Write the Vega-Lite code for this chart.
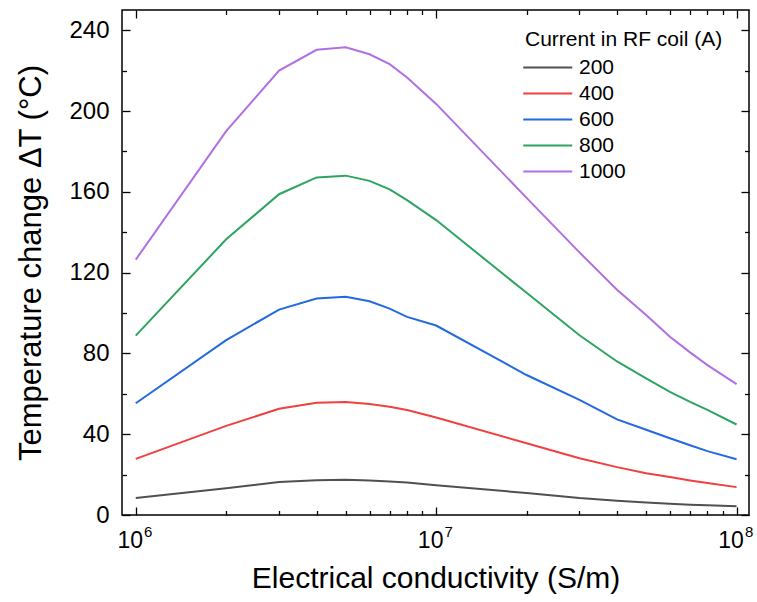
{
  "$schema": "https://vega.github.io/schema/vega-lite/v6.json",
  "width": 627,
  "height": 505,
  "autosize": {"type": "none"},
  "padding": {"left": 122, "top": 10, "right": 8, "bottom": 87},
  "background": "white",
  "data": {"values": [
    {"sigma": 1000000, "current": 200, "dT": 8.4},
    {"sigma": 2000000, "current": 200, "dT": 13.2},
    {"sigma": 3000000, "current": 200, "dT": 16.3},
    {"sigma": 4000000, "current": 200, "dT": 17.2},
    {"sigma": 5000000, "current": 200, "dT": 17.4},
    {"sigma": 6000000, "current": 200, "dT": 17.1},
    {"sigma": 7000000, "current": 200, "dT": 16.6},
    {"sigma": 8000000, "current": 200, "dT": 16.1},
    {"sigma": 10000000, "current": 200, "dT": 14.7},
    {"sigma": 20000000, "current": 200, "dT": 10.9},
    {"sigma": 30000000, "current": 200, "dT": 8.4},
    {"sigma": 40000000, "current": 200, "dT": 7.1},
    {"sigma": 50000000, "current": 200, "dT": 6.2},
    {"sigma": 60000000, "current": 200, "dT": 5.6},
    {"sigma": 70000000, "current": 200, "dT": 5.1},
    {"sigma": 80000000, "current": 200, "dT": 4.8},
    {"sigma": 100000000, "current": 200, "dT": 4.3},
    {"sigma": 1000000, "current": 400, "dT": 27.8},
    {"sigma": 2000000, "current": 400, "dT": 44.1},
    {"sigma": 3000000, "current": 400, "dT": 52.6},
    {"sigma": 4000000, "current": 400, "dT": 55.6},
    {"sigma": 5000000, "current": 400, "dT": 56.0},
    {"sigma": 6000000, "current": 400, "dT": 55.0},
    {"sigma": 7000000, "current": 400, "dT": 53.6},
    {"sigma": 8000000, "current": 400, "dT": 52.0},
    {"sigma": 10000000, "current": 400, "dT": 48.3},
    {"sigma": 20000000, "current": 400, "dT": 35.5},
    {"sigma": 30000000, "current": 400, "dT": 28.1},
    {"sigma": 40000000, "current": 400, "dT": 23.7},
    {"sigma": 50000000, "current": 400, "dT": 20.7},
    {"sigma": 60000000, "current": 400, "dT": 18.8},
    {"sigma": 70000000, "current": 400, "dT": 17.1},
    {"sigma": 80000000, "current": 400, "dT": 15.8},
    {"sigma": 100000000, "current": 400, "dT": 13.8},
    {"sigma": 1000000, "current": 600, "dT": 55.3},
    {"sigma": 2000000, "current": 600, "dT": 86.6},
    {"sigma": 3000000, "current": 600, "dT": 101.7},
    {"sigma": 4000000, "current": 600, "dT": 107.2},
    {"sigma": 5000000, "current": 600, "dT": 108.0},
    {"sigma": 6000000, "current": 600, "dT": 105.8},
    {"sigma": 7000000, "current": 600, "dT": 102.2},
    {"sigma": 8000000, "current": 600, "dT": 98.1},
    {"sigma": 10000000, "current": 600, "dT": 93.8},
    {"sigma": 20000000, "current": 600, "dT": 69.3},
    {"sigma": 30000000, "current": 600, "dT": 57.0},
    {"sigma": 40000000, "current": 600, "dT": 47.3},
    {"sigma": 50000000, "current": 600, "dT": 42.2},
    {"sigma": 60000000, "current": 600, "dT": 38.0},
    {"sigma": 70000000, "current": 600, "dT": 34.5},
    {"sigma": 80000000, "current": 600, "dT": 31.6},
    {"sigma": 100000000, "current": 600, "dT": 27.6},
    {"sigma": 1000000, "current": 800, "dT": 88.8},
    {"sigma": 2000000, "current": 800, "dT": 136.5},
    {"sigma": 3000000, "current": 800, "dT": 158.8},
    {"sigma": 4000000, "current": 800, "dT": 167.1},
    {"sigma": 5000000, "current": 800, "dT": 168.0},
    {"sigma": 6000000, "current": 800, "dT": 165.4},
    {"sigma": 7000000, "current": 800, "dT": 161.2},
    {"sigma": 8000000, "current": 800, "dT": 155.9},
    {"sigma": 10000000, "current": 800, "dT": 146.0},
    {"sigma": 20000000, "current": 800, "dT": 110.0},
    {"sigma": 30000000, "current": 800, "dT": 89.0},
    {"sigma": 40000000, "current": 800, "dT": 76.0},
    {"sigma": 50000000, "current": 800, "dT": 67.6},
    {"sigma": 60000000, "current": 800, "dT": 61.0},
    {"sigma": 70000000, "current": 800, "dT": 56.0},
    {"sigma": 80000000, "current": 800, "dT": 52.0},
    {"sigma": 100000000, "current": 800, "dT": 44.8},
    {"sigma": 1000000, "current": 1000, "dT": 126.4},
    {"sigma": 2000000, "current": 1000, "dT": 190.0},
    {"sigma": 3000000, "current": 1000, "dT": 220.0},
    {"sigma": 4000000, "current": 1000, "dT": 230.3},
    {"sigma": 5000000, "current": 1000, "dT": 231.6},
    {"sigma": 6000000, "current": 1000, "dT": 228.1},
    {"sigma": 7000000, "current": 1000, "dT": 223.2},
    {"sigma": 8000000, "current": 1000, "dT": 216.6},
    {"sigma": 10000000, "current": 1000, "dT": 203.5},
    {"sigma": 20000000, "current": 1000, "dT": 157.0},
    {"sigma": 30000000, "current": 1000, "dT": 130.0},
    {"sigma": 40000000, "current": 1000, "dT": 111.5},
    {"sigma": 50000000, "current": 1000, "dT": 99.0},
    {"sigma": 60000000, "current": 1000, "dT": 88.2},
    {"sigma": 70000000, "current": 1000, "dT": 80.5},
    {"sigma": 80000000, "current": 1000, "dT": 74.2},
    {"sigma": 100000000, "current": 1000, "dT": 64.8}
  ]},
  "config": {
    "view": {"stroke": "#000000", "strokeWidth": 1.5},
    "axis": {
      "grid": false,
      "domain": false,
      "labelFont": "Liberation Sans",
      "titleFont": "Liberation Sans",
      "labelColor": "#000000",
      "titleColor": "#000000",
      "tickColor": "#000000",
      "tickWidth": 1.3,
      "titleFontWeight": "normal"
    }
  },
  "layer": [
    {
      "mark": {"type": "line", "strokeWidth": 2},
      "encoding": {
        "x": {
          "field": "sigma", "type": "quantitative",
          "scale": {"type": "log", "domain": [900000, 110000000], "nice": false},
          "axis": {
            "orient": "bottom", "values": [1000000, 10000000, 100000000],
            "ticks": false, "labelPadding": 14, "labelFontSize": 23, "labelOffset": -6,
            "labelExpr": "'10'",
            "title": "Electrical conductivity (S/m)", "titleFontSize": 30, "titlePadding": 11
          }
        },
        "y": {
          "field": "dT", "type": "quantitative",
          "scale": {"domain": [0, 250], "nice": false},
          "axis": {
            "orient": "left", "values": [0, 40, 80, 120, 160, 200, 240],
            "ticks": false, "labelPadding": 13, "labelFontSize": 24,
            "title": "Temperature change ΔT (°C)", "titleFontSize": 31, "titlePadding": 21
          }
        },
        "color": {
          "field": "current", "type": "nominal",
          "scale": {"domain": [200, 400, 600, 800, 1000], "range": ["#505050", "#f23f3f", "#2369e0", "#2ea462", "#b06fe3"]},
          "legend": {
            "orient": "none", "legendX": 403, "legendY": 19,
            "title": "Current in RF coil (A)", "titleFontSize": 21, "titleFont": "Liberation Sans",
            "titleFontWeight": "normal", "titleColor": "#000000", "titlePadding": 7, "titleLimit": 400,
            "labelFontSize": 21, "labelFont": "Liberation Sans", "labelColor": "#000000",
            "symbolType": "M-2.5,0H7.5", "symbolSize": 96, "symbolStrokeWidth": 2.2,
            "labelOffset": 33, "rowPadding": 4
          }
        }
      }
    },
    {
      "mark": {"type": "line", "opacity": 0},
      "encoding": {
        "x": {"field": "sigma", "type": "quantitative",
          "scale": {"type": "log", "domain": [900000, 110000000], "nice": false},
          "axis": {"orient": "bottom", "values": [1000000, 10000000, 100000000], "ticks": false, "labelPadding": 9, "labelFontSize": 15, "labelOffset": 12,
            "labelExpr": "datum.value < 5000000 ? '6' : datum.value < 50000000 ? '7' : '8'", "title": null}},
        "y": {"field": "dT", "type": "quantitative",
          "scale": {"domain": [0, 250], "nice": false},
          "axis": null},
        "detail": {"field": "current"}
      }
    },
    {
      "mark": {"type": "line", "opacity": 0},
      "encoding": {
        "x": {"field": "sigma", "type": "quantitative",
          "scale": {"type": "log", "domain": [900000, 110000000], "nice": false},
          "axis": {"orient": "bottom", "values": [1000000, 10000000, 100000000], "labels": false, "tickSize": -8, "title": null}},
        "y": {"field": "dT", "type": "quantitative",
          "scale": {"domain": [0, 250], "nice": false},
          "axis": {"orient": "left", "values": [0, 40, 80, 120, 160, 200, 240], "labels": false, "tickSize": -8, "title": null}},
        "detail": {"field": "current"}
      }
    },
    {
      "mark": {"type": "line", "opacity": 0},
      "encoding": {
        "x": {"field": "sigma", "type": "quantitative",
          "scale": {"type": "log", "domain": [900000, 110000000], "nice": false},
          "axis": {"orient": "bottom", "values": [2000000, 3000000, 4000000, 5000000, 6000000, 7000000, 8000000, 9000000, 20000000, 30000000, 40000000, 50000000, 60000000, 70000000, 80000000, 90000000], "labels": false, "tickSize": -4.5, "title": null}},
        "y": {"field": "dT", "type": "quantitative",
          "scale": {"domain": [0, 250], "nice": false},
          "axis": {"orient": "left", "values": [20, 60, 100, 140, 180, 220], "labels": false, "tickSize": -4.5, "title": null}},
        "detail": {"field": "current"}
      }
    },
    {
      "mark": {"type": "line", "opacity": 0},
      "encoding": {
        "x": {"field": "sigma", "type": "quantitative",
          "scale": {"type": "log", "domain": [900000, 110000000], "nice": false},
          "axis": {"orient": "top", "values": [1000000, 10000000, 100000000], "labels": false, "tickSize": -8, "title": null}},
        "y": {"field": "dT", "type": "quantitative",
          "scale": {"domain": [0, 250], "nice": false},
          "axis": {"orient": "right", "values": [0, 40, 80, 120, 160, 200, 240], "labels": false, "tickSize": -8, "title": null}},
        "detail": {"field": "current"}
      }
    },
    {
      "mark": {"type": "line", "opacity": 0},
      "encoding": {
        "x": {"field": "sigma", "type": "quantitative",
          "scale": {"type": "log", "domain": [900000, 110000000], "nice": false},
          "axis": {"orient": "top", "values": [2000000, 3000000, 4000000, 5000000, 6000000, 7000000, 8000000, 9000000, 20000000, 30000000, 40000000, 50000000, 60000000, 70000000, 80000000, 90000000], "labels": false, "tickSize": -4.5, "title": null}},
        "y": {"field": "dT", "type": "quantitative",
          "scale": {"domain": [0, 250], "nice": false},
          "axis": {"orient": "right", "values": [20, 60, 100, 140, 180, 220], "labels": false, "tickSize": -4.5, "title": null}},
        "detail": {"field": "current"}
      }
    }
  ],
  "resolve": {"axis": {"x": "independent", "y": "independent"}}
}
